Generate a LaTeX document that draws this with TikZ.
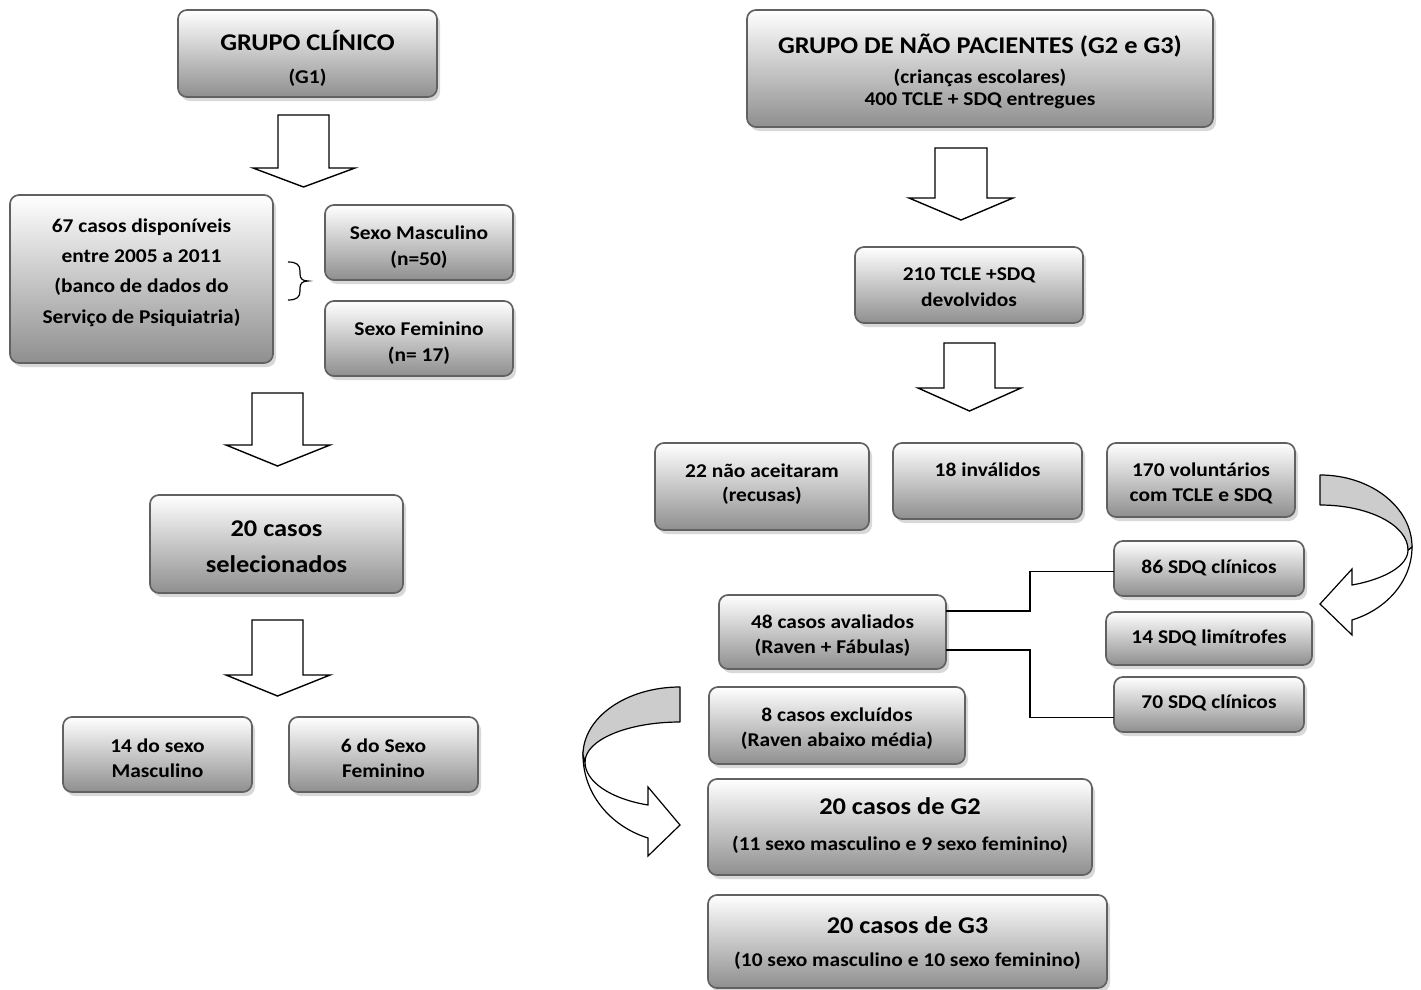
\documentclass[tikz,border=0pt]{standalone}
\usepackage{fontspec}
\setmainfont{Carlito}[FakeStretch=1.1]
\usetikzlibrary{shadows}
\tikzset{
 box/.style={draw=black!62, line width=1.7pt, rounded corners=9pt, top color=white, bottom color=black!44, inner sep=0pt, outer sep=0pt, anchor=north west, drop shadow={shadow xshift=3pt, shadow yshift=-4pt, fill=black!30, opacity=0.5}},
 tb/.style={anchor=mid, inner sep=0pt, font=\fontsize{19.5}{23}\selectfont\bfseries},
 tB/.style={anchor=mid, inner sep=0pt, font=\fontsize{24}{28}\selectfont\bfseries},
 barrow/.style={draw=black, line width=1.4pt, fill=white, line join=miter},
 conn/.style={draw=black, line width=1.4pt},
 curvtop/.style={draw=black, line width=1.2pt, fill=black!20, line join=round},
 curvfront/.style={draw=black, line width=1.2pt, fill=white, line join=miter},
 bracestyle/.style={draw=black, line width=1.2pt}
}
\newcommand\mkbox[5]{\node[box, minimum width={(#4-#2)*1pt}, minimum height={(#5-#3)*1pt}] (#1) at (#2,#3) {};}
\newcommand\blockarr[7]{\draw[barrow] (#1,#3) -- (#2,#3) -- (#2,#4) -- (#6,#4) -- ({(#1+#2)/2},#7) -- (#5,#4) -- (#1,#4) -- cycle;}
\begin{document}
\begin{tikzpicture}[x=1pt,y=-1pt]
\useasboundingbox (0,0) rectangle (1421,990);
% ---------- left column ----------
\mkbox{b1}{178}{10}{437}{97}
\node[tB] (t1a) at (307.5,48) {GRUPO CLÍNICO};
\node[tb] (t1b) at (307.5,81) {(G1)};
\blockarr{278}{329}{115}{168}{253}{355}{187}
\mkbox{b2}{10}{195}{273}{363}
\node[tb] (t2a) at (141.5,230) {67 casos disponíveis};
\node[tb] (t2b) at (141.5,260) {entre 2005 a 2011};
\node[tb] (t2c) at (141.5,290) {(banco de dados do};
\node[tb] (t2d) at (141.5,321) {Serviço de Psiquiatria)};
\draw[bracestyle] (288,262) .. controls (297,262) and (300,265) .. (300,271) -- (300,274) .. controls (300,279) and (303,281) .. (308,281) .. controls (303,281) and (300,283) .. (300,288) -- (300,291) .. controls (300,297) and (297,300) .. (288,300);
\mkbox{b3}{325}{205}{513}{280}
\node[tb] (t3a) at (419,237) {Sexo Masculino};
\node[tb] (t3b) at (419,263) {(n=50)};
\mkbox{b4}{325}{301}{513}{376}
\node[tb] (t4a) at (419,333) {Sexo Feminino};
\node[tb] (t4b) at (419,359) {(n= 17)};
\blockarr{252}{303}{393}{445}{226}{330}{466}
\mkbox{b5}{150}{495}{403}{593}
\node[tB] (t5a) at (276.5,534) {20 casos};
\node[tB] (t5b) at (276.5,570) {selecionados};
\blockarr{252}{303}{620}{675}{226}{330}{696}
\mkbox{b6}{63}{717}{252}{792}
\node[tb] (t6a) at (157.5,750) {14 do sexo};
\node[tb] (t6b) at (157.5,775) {Masculino};
\mkbox{b7}{289}{717}{478}{792}
\node[tb] (t7a) at (383.5,750) {6 do Sexo};
\node[tb] (t7b) at (383.5,775) {Feminino};
% ---------- right column ----------
\mkbox{b8}{747}{10}{1213}{127}
\node[tB] (t8a) at (980,51) {GRUPO DE NÃO PACIENTES (G2 e G3)};
\node[tb] (t8b) at (980,81) {(crianças escolares)};
\node[tb] (t8c) at (980,103) {400 TCLE + SDQ entregues};
\blockarr{935}{987}{148}{198}{909}{1013}{220}
\mkbox{b9}{855}{247}{1083}{323}
\node[tb] (t9a) at (969,278) {210 TCLE +SDQ};
\node[tb] (t9b) at (969,304) {devolvidos};
\blockarr{944}{995}{343}{388}{918}{1021}{411}
\mkbox{b10}{655}{443}{869}{530}
\node[tb] (t10a) at (762,475) {22 não aceitaram};
\node[tb] (t10b) at (762,499) {(recusas)};
\mkbox{b11}{893}{443}{1082}{519}
\node[tb] (t11a) at (987.5,474) {18 inválidos};
\mkbox{b12}{1107}{443}{1295}{517}
\node[tb] (t12a) at (1201,474) {170 voluntários};
\node[tb] (t12b) at (1201,499) {com TCLE e SDQ};
\mkbox{b13}{1114}{541}{1304}{596}
\node[tb] (t13a) at (1209,571) {86 SDQ clínicos};
\mkbox{b14}{1106}{612}{1312}{665}
\node[tb] (t14a) at (1209,641) {14 SDQ limítrofes};
\mkbox{b15}{1114}{677}{1304}{732}
\node[tb] (t15a) at (1209,706) {70 SDQ clínicos};
\mkbox{b16}{719}{595}{946}{669}
\node[tb] (t16a) at (832.5,626.5) {48 casos avaliados};
\node[tb] (t16b) at (832.5,651.5) {(Raven + Fábulas)};
\mkbox{b17}{709}{687}{965}{764}
\node[tb] (t17a) at (837,719.5) {8 casos excluídos};
\node[tb] (t17b) at (837,744.5) {(Raven abaixo média)};
\mkbox{b18}{708}{779}{1092}{875}
\node[tB] (t18a) at (900,812) {20 casos de G2};
\node[tb] (t18b) at (900,848) {(11 sexo masculino e 9 sexo feminino)};
\mkbox{b19}{708}{895}{1107}{988}
\node[tB] (t19a) at (907.5,931) {20 casos de G3};
\node[tb] (t19b) at (907.5,964) {(10 sexo masculino e 10 sexo feminino)};
% connectors
\draw[conn] ([yshift=21pt]b16.east) -- ++(84,0) |- ([yshift=-3pt]b13.west);
\draw[conn] ([yshift=-18pt]b16.east) -- ++(84,0) |- ([yshift=-13pt]b15.west);
% curved arrows
\draw[curvfront] (1412,547) .. controls (1412,579.6) and (1388.1,608.8) .. (1352,620) -- (1352,635) -- (1320,604) -- (1352,569) -- (1352,585) .. controls (1385.8,578.9) and (1408,565.3) .. (1408,550) -- cycle;
\draw[curvtop] (1320,475) .. controls (1370.8,475) and (1412,507.2) .. (1412,547) -- (1408,550) .. controls (1408,525.1) and (1368.6,505) .. (1320,505) -- cycle;
\draw[curvfront] (583,755) .. controls (583,792.4) and (609,825.8) .. (648,838) -- (648,856) -- (680,825) -- (648,787) -- (648,805) .. controls (610.1,798.7) and (585,781.5) .. (585,762) -- cycle;
\draw[curvtop] (680,687) .. controls (626.4,687) and (583,717.4) .. (583,755) -- (585,762) .. controls (585,739.9) and (627.5,722) .. (680,722) -- cycle;
\end{tikzpicture}
\end{document}
